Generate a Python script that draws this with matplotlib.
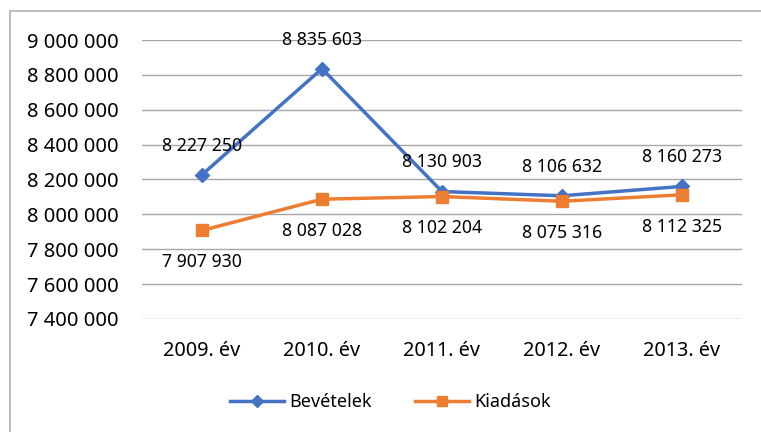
import matplotlib
matplotlib.use('Agg')
import matplotlib.pyplot as plt
from matplotlib.patches import Rectangle
from matplotlib.ticker import FuncFormatter

plt.rcParams['font.family'] = ['Noto Sans', 'DejaVu Sans']

years = ['2009. év', '2010. év', '2011. év', '2012. év', '2013. év']
bevetelek = [8227250, 8835603, 8130903, 8106632, 8160273]
kiadasok = [7907930, 8087028, 8102204, 8075316, 8112325]
y_ticks = [7400000, 7600000, 7800000, 8000000, 8200000, 8400000, 8600000, 8800000, 9000000]


def hu(v, pos=None):
    return f'{int(v):,}'.replace(',', ' ')


fig = plt.figure(figsize=(7.61, 4.32), dpi=100)
ax = fig.add_axes([0.1866, 0.2616, 0.7884, 0.6458])

# chart frame (light grey border, cropped on the right and bottom)
fig.patches.append(Rectangle((10 / 761, -0.1), 1.2, 1 - 11 / 432 + 0.1,
                             transform=fig.transFigure, fill=False,
                             edgecolor='#bfbfbf', lw=1.5))

x = list(range(len(years)))
ax.plot(x, bevetelek, color='#4472C4', lw=2.5, marker='D', ms=7.5, label='Bevételek', zorder=3)
ax.plot(x, kiadasok, color='#ED7D31', lw=2.5, marker='s', ms=9, label='Kiadások', zorder=3)

for xi, v in zip(x, bevetelek):
    ax.annotate(hu(v), (xi, v), xytext=(0, 21), textcoords='offset points',
                ha='center', va='center', fontsize=12.7, color='#000000')
for xi, v in zip(x, kiadasok):
    ax.annotate(hu(v), (xi, v), xytext=(0, -23), textcoords='offset points',
                ha='center', va='center', fontsize=12.7, color='#000000')

ax.set_xlim(-0.5, 4.5)
ax.set_ylim(7400000, 9000000)
ax.set_yticks(y_ticks)
ax.yaxis.set_major_formatter(FuncFormatter(hu))
ax.set_xticks(x)
ax.set_xticklabels(years)
ax.tick_params(axis='y', length=0, labelsize=14.5, colors='#000000', pad=17)
ax.tick_params(axis='x', length=0, labelsize=14.3, colors='#000000', pad=16)
ax.grid(axis='y', color='#a6a6a6', lw=1)
ax.set_axisbelow(True)
for s in ax.spines.values():
    s.set_visible(False)

fig.legend(loc='center', bbox_to_anchor=(0.513, 1 - 402 / 432), ncol=2, frameon=False,
           fontsize=13, handlelength=3.0, handletextpad=0.3, columnspacing=2.4,
           markerscale=0.85)

fig.savefig('out.png', dpi=100)
